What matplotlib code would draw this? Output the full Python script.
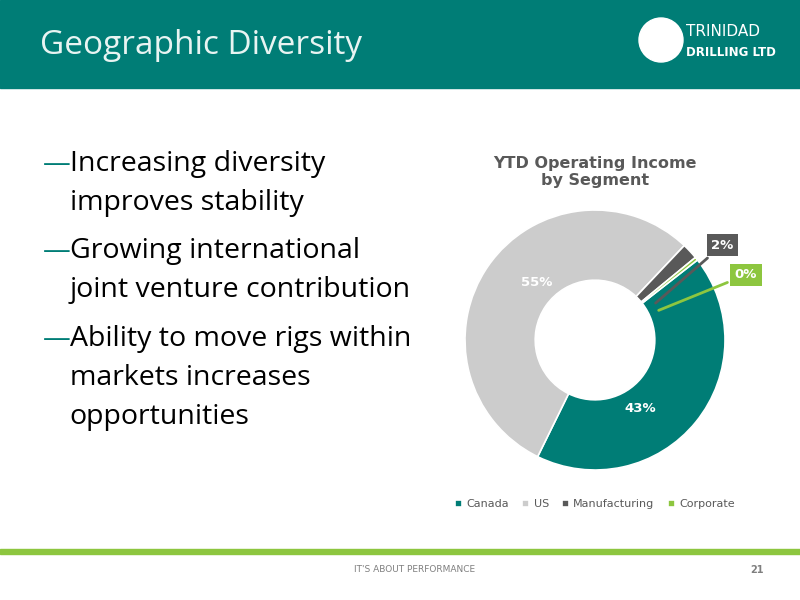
import matplotlib.pyplot as plt
from matplotlib.patches import Rectangle, Ellipse

segments = ["Canada", "US", "Manufacturing", "Corporate"]
shares = [43, 55, 2, 0.4]
share_labels = ["43%", "55%", "2%", "0%"]
colors = ["#007D76", "#CCCCCC", "#595959", "#8DC63F"]
bullets = ["Increasing diversity\nimproves stability",
           "Growing international\njoint venture contribution",
           "Ability to move rigs within\nmarkets increases\nopportunities"]

fig = plt.figure(figsize=(8, 6), dpi=100)
fig.patch.set_facecolor("white")

# header band
fig.add_artist(Rectangle((0, 1 - 88 / 600), 1, 88 / 600, transform=fig.transFigure,
                         color="#007D76", zorder=0))
fig.text(0.05, 1 - 46 / 600, "Geographic Diversity", color="#E8F4F2", fontsize=24,
         family="Open Sans", va="center")
fig.add_artist(Ellipse((661 / 800, 1 - 40 / 600), 44 / 800, 44 / 600,
                       transform=fig.transFigure, color="white", zorder=1))
fig.text(686 / 800, 1 - 32 / 600, "TRINIDAD", color="white", fontsize=11, va="center")
fig.text(686 / 800, 1 - 52 / 600, "DRILLING LTD", color="white", fontsize=8.5,
         va="center", weight="bold")

# bullets
ys = [1 - 150 / 600, 1 - 237 / 600, 1 - 325 / 600]
for y, b in zip(ys, bullets):
    fig.text(0.053, y, "\u2014", color="#007D76", fontsize=20, va="top",
             family="Open Sans")
    fig.text(0.087, y, b, color="black", fontsize=20.5, va="top",
             family="Open Sans", linespacing=1.52)

# donut
ax = fig.add_axes([465 / 800, (600 - 470) / 600, 260 / 800, 260 / 600])
wedges, _ = ax.pie(shares, colors=colors, startangle=38, counterclock=False,
                   radius=1, wedgeprops=dict(width=0.54, edgecolor="white", linewidth=1.2))
ax.set_xlim(-1, 1)
ax.set_ylim(-1, 1)
ax.set_aspect("equal")
ax.text(-0.45, 0.44, share_labels[1], color="white", fontsize=9.5, weight="bold",
        ha="center", va="center")
ax.text(0.35, -0.53, share_labels[0], color="white", fontsize=9.5, weight="bold",
        ha="center", va="center")
ax.annotate(share_labels[2], xy=(0.45, 0.27), xytext=(0.98, 0.73), color="white",
            fontsize=9.5, weight="bold", ha="center", va="center",
            bbox=dict(boxstyle="square,pad=0.35", fc=colors[2], ec="none"),
            arrowprops=dict(arrowstyle="-", color=colors[2], lw=2))
ax.annotate(share_labels[3], xy=(0.47, 0.22), xytext=(1.16, 0.5), color="white",
            fontsize=9.5, weight="bold", ha="center", va="center",
            bbox=dict(boxstyle="square,pad=0.35", fc=colors[3], ec="none"),
            arrowprops=dict(arrowstyle="-", color=colors[3], lw=2))

fig.text(595 / 800, 1 - 172 / 600, "YTD Operating Income\nby Segment", color="#595959",
         fontsize=11.5, weight="bold", ha="center", va="center")
leg = fig.legend(wedges, segments, loc="center", bbox_to_anchor=(595 / 800, 1 - 504 / 600),
                 ncol=4, frameon=False, fontsize=8, handlelength=0.6, handleheight=0.6,
                 columnspacing=1.2, handletextpad=0.4)
for t in leg.get_texts():
    t.set_color("#595959")

# footer
fig.add_artist(Rectangle((0, 1 - 554 / 600), 1, 5 / 600, transform=fig.transFigure,
                         color="#8DC63F", zorder=0))
fig.text(415 / 800, 1 - 570 / 600, "IT'S ABOUT PERFORMANCE", color="#7F7F7F",
         fontsize=6.5, ha="center", va="center")
fig.text(757 / 800, 1 - 570 / 600, "21", color="#7F7F7F", fontsize=7,
         ha="center", va="center", weight="bold")

fig.savefig("out.png", dpi=100)
